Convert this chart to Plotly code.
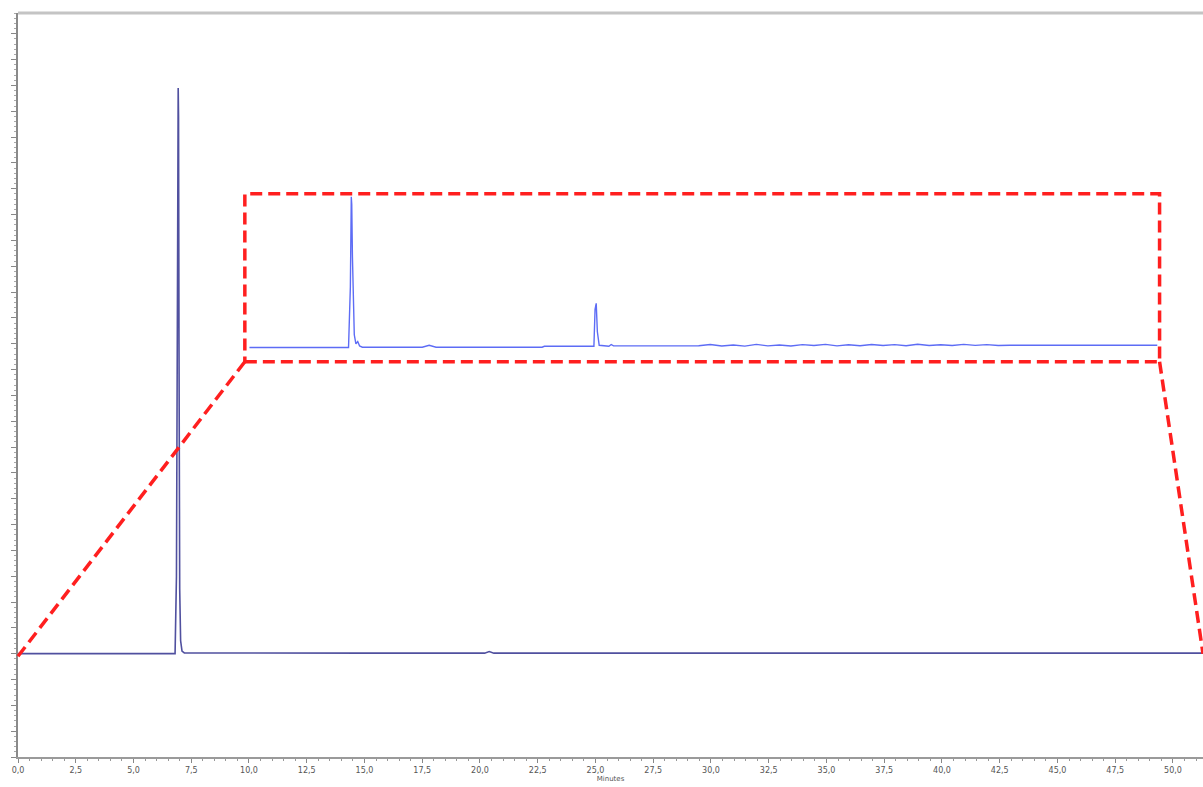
import plotly.graph_objects as go

# ---- main chromatogram (minutes, detector units) ----
main_time = [0.0, 3.0, 6.0, 6.80, 6.86, 6.90, 6.92, 6.935, 6.95, 6.97, 7.00, 7.04, 7.10, 7.20,
             10.0, 15.0, 20.2, 20.4, 20.6, 22.5, 22.7, 22.9, 30.0, 40.0, 51.3]
main_signal = [0.0, 0.0, 0.0, 0.0, 30.0, 150.0, 208.0, 219.0, 208.0, 120.0, 25.0, 5.0, 1.0, 0.3,
               0.2, 0.2, 0.2, 0.8, 0.2, 0.2, 0.4, 0.2, 0.2, 0.2, 0.2]

# ---- zoomed inset (same run, 10–49.5 min, expanded signal) ----
inset_time = [10.0, 14.30, 14.38, 14.42, 14.44, 14.47, 14.50, 14.55, 14.62, 14.70, 14.78, 14.9,
              17.5, 17.8, 18.1, 22.7, 22.8, 24.95, 25.00, 25.05, 25.10, 25.18, 25.6, 25.7, 25.8,
              29.5, 30.0, 30.5, 31.0, 31.5, 32.0, 32.5, 33.0, 33.5, 34.0, 34.5, 35.0, 35.5, 36.0,
              36.5, 37.0, 37.5, 38.0, 38.5, 39.0, 39.5, 40.0, 40.5, 41.0, 41.5, 42.0, 42.5, 43.0,
              45.0, 46.0, 46.3, 47.0, 49.4]
inset_signal = [-0.5, -0.5, 40.0, 100.0, 95.0, 60.0, 30.0, 8.0, 2.0, 3.5, 0.5, -0.3,
                -0.3, 1.0, -0.3, -0.3, 0.3, 0.3, 25.0, 29.0, 10.0, 1.0, 0.3, 1.5, 0.6,
                0.7, 1.5, 0.5, 1.2, 0.4, 1.6, 0.6, 1.2, 0.5, 1.4, 0.8, 1.6, 0.6, 1.3,
                0.7, 1.5, 0.8, 1.4, 0.7, 1.7, 0.8, 1.3, 0.8, 1.6, 0.9, 1.4, 0.8, 1.0,
                1.0, 1.0, 1.3, 1.0, 1.0]

x_range = [0.0, 51.3]
y_range = [-40.0, 248.0]
inset_x_range = [9.8, 49.5]
inset_y_range = [-10.0, 102.0]
# inset placement, expressed in main-axis data units
inset_box_x = [9.82, 49.42]
inset_box_y = [113.0, 178.0]
link_left = [0.0, -1.0]
link_right = [51.3, 0.0]


def px(v):
    return (v - x_range[0]) / (x_range[1] - x_range[0])


def py(v):
    return (v - y_range[0]) / (y_range[1] - y_range[0])


dom_x = [px(inset_box_x[0]), px(inset_box_x[1])]
dom_y = [py(inset_box_y[0]), py(inset_box_y[1])]

fig = go.Figure()
fig.add_trace(go.Scatter(x=main_time, y=main_signal, mode="lines",
                         line=dict(color="#50509f", width=1.6), hoverinfo="skip",
                         showlegend=False))
fig.add_trace(go.Scatter(x=inset_time, y=inset_signal, mode="lines", xaxis="x2", yaxis="y2",
                         line=dict(color="#5d6cf5", width=1.4), hoverinfo="skip",
                         showlegend=False))

red = "#ff1f1f"
dash = "12px,6px"
# top frame line (light grey)
fig.add_shape(type="line", xref="paper", yref="paper", x0=0, x1=1, y0=1, y1=1,
              line=dict(color="#c4c4c4", width=3))
fig.add_shape(type="rect", xref="paper", yref="paper",
              x0=dom_x[0], x1=dom_x[1], y0=dom_y[0], y1=dom_y[1],
              line=dict(color=red, width=3.5, dash=dash), fillcolor="rgba(0,0,0,0)")
fig.add_shape(type="line", xref="paper", yref="paper",
              x0=dom_x[0], y0=dom_y[0], x1=px(link_left[0]), y1=py(link_left[1]),
              line=dict(color=red, width=3.5, dash=dash))
fig.add_shape(type="line", xref="paper", yref="paper",
              x0=dom_x[1], y0=dom_y[0], x1=px(link_right[0]), y1=py(link_right[1]),
              line=dict(color=red, width=3.5, dash=dash))

fig.update_layout(
    width=1203, height=787,
    margin=dict(l=18, r=0, t=13, b=30),
    paper_bgcolor="white", plot_bgcolor="white",
    separators=",.",
    showlegend=False,
    font=dict(family="DejaVu Sans", size=8, color="#555"),
    xaxis=dict(range=x_range, tick0=0, dtick=2.5, tickformat=".1f",
               showgrid=False, zeroline=False, showline=True, linecolor="#9a9a9a",
               linewidth=2, ticks="outside", ticklen=4, tickcolor="#888",
               tickfont=dict(size=8, color="#555"),
               minor=dict(dtick=0.5, ticks="outside", ticklen=2, tickcolor="#999"),
               title=dict(text="Minutes", font=dict(size=7, color="#555"), standoff=2)),
    yaxis=dict(range=y_range, tick0=0, dtick=10, showticklabels=False,
               showgrid=False, zeroline=False, showline=True, linecolor="#8a8a8a",
               linewidth=2, ticks="outside", ticklen=5, tickcolor="#888",
               minor=dict(dtick=2, ticks="outside", ticklen=2, tickcolor="#aaa")),
    xaxis2=dict(domain=dom_x, range=inset_x_range, anchor="y2", visible=False,
                showgrid=False, zeroline=False),
    yaxis2=dict(domain=dom_y, range=inset_y_range, anchor="x2", visible=False,
                showgrid=False, zeroline=False),
)

fig.write_html("out.html",
               config={"displayModeBar": False, "staticPlot": True},
               post_script="document.body.style.margin='0';"
                           "document.body.style.overflow='hidden';")
